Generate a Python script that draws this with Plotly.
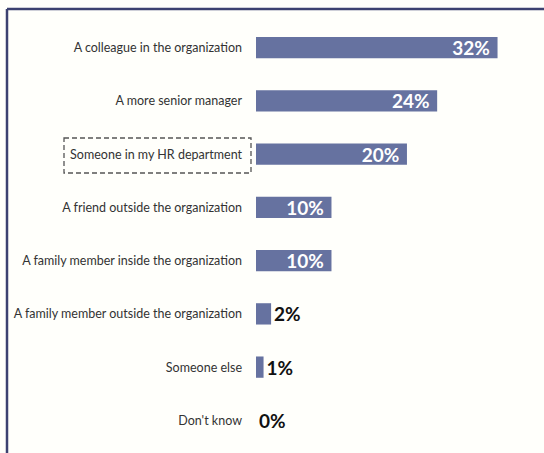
import plotly.graph_objects as go

# Who employees would turn to (share of respondents, %)
categories = [
    "A colleague in the organization",
    "A more senior manager",
    "Someone in my HR department",
    "A friend outside the organization",
    "A family member inside the organization",
    "A family member outside the organization",
    "Someone else",
    "Don't know",
]
values = [32, 24, 20, 10, 10, 2, 1, 0]
label_positions = ["inside", "inside", "inside", "inside", "inside", "outside", "outside", "outside"]
label_templates = ["%{x}%&nbsp;" if p == "inside" else "%{x}%" for p in label_positions]

W, H = 544, 453
ML, MR, MT, MB = 256, 14, 21, 6
X_MAX = 36.3

BAR_COLOR = "#6672a0"
FRAME_COLOR = "#3c4170"

fig = go.Figure(
    go.Bar(
        x=values,
        y=categories,
        orientation="h",
        marker=dict(color=BAR_COLOR, line=dict(width=0)),
        width=0.4,
        texttemplate=label_templates,
        textposition=label_positions,
        insidetextanchor="end",
        insidetextfont=dict(color="white", size=19, family="Lato", weight="bold"),
        outsidetextfont=dict(color="#111111", size=19, family="Lato", weight="bold"),
        constraintext="none",
        cliponaxis=False,
        hoverinfo="skip",
    )
)

pw = W - ML - MR
ph = H - MT - MB


def px_x(p):
    return (p - ML) / pw


def px_y(p):
    return 1 - (p - MT) / ph


# Outer frame: left and top edges
fig.add_shape(type="line", xref="paper", yref="paper",
              x0=px_x(7), x1=px_x(W + 5), y0=px_y(9), y1=px_y(9),
              line=dict(color=FRAME_COLOR, width=2.5))
fig.add_shape(type="line", xref="paper", yref="paper",
              x0=px_x(7), x1=px_x(7), y0=px_y(9), y1=px_y(H + 5),
              line=dict(color=FRAME_COLOR, width=2.5))

# Dashed highlight around the HR label
fig.add_shape(type="rect", xref="paper", yref="paper",
              x0=px_x(64), x1=px_x(251), y0=px_y(138), y1=px_y(173),
              line=dict(color="#555555", width=1.3, dash="5px,3px"))

fig.update_layout(
    width=W,
    height=H,
    margin=dict(l=ML, r=MR, t=MT, b=MB),
    paper_bgcolor="#fffffb",
    plot_bgcolor="#fffffb",
    showlegend=False,
    font=dict(family="Lato", size=12, color="#333333"),
    xaxis=dict(range=[0, X_MAX], visible=False, fixedrange=True),
    yaxis=dict(
        autorange="reversed",
        showgrid=False,
        zeroline=False,
        showline=False,
        ticks="",
        ticklabelstandoff=13,
        tickfont=dict(family="Lato", size=12.5, color="#333333"),
        fixedrange=True,
    ),
)

fig.write_html("out.html", config={"displayModeBar": False})
